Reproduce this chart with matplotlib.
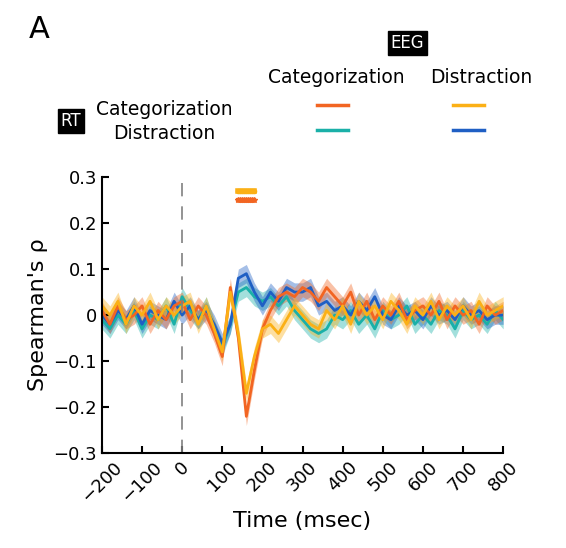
import matplotlib
matplotlib.use("Agg")
import matplotlib.pyplot as plt
import numpy as np

times = np.arange(-200, 801, 20)

# RT categorization / EEG categorization
cat_cat = [0.01, -0.02, 0.02, -0.01, 0.00, 0.02, -0.02, 0.01, -0.01, 0.02,
           0.03, -0.01, 0.02, 0.00, -0.04, -0.09, 0.06, -0.05, -0.22, -0.12,
           -0.03, 0.01, 0.04, 0.05, 0.04, 0.06, 0.05, 0.03, 0.06, 0.04,
           0.02, 0.05, 0.00, 0.03, -0.01, 0.02, 0.00, 0.03, -0.01, 0.01,
           0.02, 0.00, 0.03, -0.01, 0.02, 0.00, 0.01, -0.02, 0.02, 0.00, 0.01]
# RT categorization / EEG distraction
cat_dis = [0.02, 0.00, 0.03, -0.02, 0.02, 0.00, 0.03, -0.01, 0.02, 0.00,
           0.02, 0.03, -0.02, 0.02, -0.03, -0.08, 0.05, -0.04, -0.17, -0.09,
           -0.03, -0.02, -0.04, -0.01, 0.02, 0.00, -0.02, -0.03, 0.01, -0.01,
           0.02, -0.02, 0.03, 0.00, 0.02, -0.01, 0.03, 0.01, -0.02, 0.02,
           0.00, 0.03, -0.01, 0.02, 0.00, 0.02, -0.01, 0.03, 0.00, 0.01, 0.02]
# RT distraction / EEG categorization
dis_cat = [-0.01, -0.03, 0.00, -0.02, 0.01, -0.03, 0.00, -0.01, 0.02, -0.02,
           0.04, 0.01, -0.01, 0.02, -0.03, -0.07, -0.02, 0.05, 0.06, 0.04,
           0.03, 0.04, 0.02, 0.04, 0.01, -0.01, -0.03, -0.04, -0.03, 0.00,
           -0.01, 0.01, -0.02, 0.00, -0.03, 0.01, -0.01, 0.00, 0.02, -0.02,
           0.00, -0.02, 0.01, 0.00, -0.03, 0.01, -0.01, 0.00, -0.02, 0.01, -0.01]
# RT distraction / EEG distraction
dis_dis = [0.00, -0.02, 0.01, -0.01, 0.02, -0.02, 0.01, 0.00, -0.01, 0.03,
           0.00, 0.02, -0.01, 0.01, -0.02, -0.06, -0.02, 0.08, 0.09, 0.05,
           0.02, 0.05, 0.03, 0.06, 0.05, 0.05, 0.06, 0.02, 0.03, 0.01,
           0.02, 0.00, 0.03, 0.01, 0.04, 0.00, -0.01, 0.02, 0.00, 0.01,
           -0.01, 0.02, 0.00, 0.01, -0.01, 0.02, 0.00, 0.01, -0.01, 0.00, 0.00]

sig_times = np.arange(140, 181, 5)
sig_yellow_y = 0.27
sig_orange_y = 0.25

orange = "#f26522"
yellow = "#fbb016"
teal = "#1ab0a8"
blue = "#1f5fc4"

fig = plt.figure(figsize=(5.66, 5.48), dpi=100)
ax = fig.add_axes([0.18, 0.173, 0.709, 0.504])

series = [(dis_cat, teal), (dis_dis, blue), (cat_cat, orange), (cat_dis, yellow)]
for vals, col in series:
    v = np.array(vals)
    ax.fill_between(times, v - 0.02, v + 0.02, color=col, alpha=0.4, lw=0)
    ax.plot(times, v, color=col, lw=2.0)

ax.plot(sig_times, [sig_yellow_y] * len(sig_times), color=yellow, lw=4,
        marker="o", ms=3)
ax.plot(sig_times, [sig_orange_y] * len(sig_times), color=orange, lw=3,
        marker="*", ms=4)

ax.axvline(0, color="gray", ls=(0, (8, 6)), lw=1.2)
ax.set_xlim(-200, 800)
ax.set_ylim(-0.3, 0.3)
ax.set_xticks(np.arange(-200, 801, 100))
ax.set_xticklabels(["\u2212200", "\u2212100", "0", "100", "200", "300", "400",
                    "500", "600", "700", "800"], rotation=45)
ax.set_yticks([-0.3, -0.2, -0.1, 0, 0.1, 0.2, 0.3])
ax.set_yticklabels(["\u22120.3", "\u22120.2", "\u22120.1", "0", "0.1", "0.2", "0.3"])
ax.tick_params(direction="in", labelsize=13, width=1.5, length=5)
for s in ["top", "right"]:
    ax.spines[s].set_visible(False)
for s in ["left", "bottom"]:
    ax.spines[s].set_linewidth(1.5)
ax.set_xlabel("Time (msec)", fontsize=16)
ax.set_ylabel("Spearman's \u03c1", fontsize=16)

fig.text(0.05, 0.93, "A", fontsize=22)
box = dict(facecolor="black", edgecolor="black", pad=2)
fig.text(0.72, 0.913, "EEG", fontsize=12, color="white", ha="center", bbox=box)
fig.text(0.595, 0.848, "Categorization", fontsize=13.5, ha="center")
fig.text(0.85, 0.848, "Distraction", fontsize=13.5, ha="center")
fig.text(0.125, 0.77, "RT", fontsize=12, color="white", ha="center", bbox=box)
fig.text(0.29, 0.79, "Categorization", fontsize=13.5, ha="center")
fig.text(0.29, 0.747, "Distraction", fontsize=13.5, ha="center")
for x, y, col in [(0.56, 0.808, orange), (0.56, 0.762, teal),
                  (0.8, 0.808, yellow), (0.8, 0.762, blue)]:
    fig.add_artist(plt.Line2D([x, x + 0.055], [y, y], color=col, lw=2.5))

fig.savefig("out.png", dpi=100)
